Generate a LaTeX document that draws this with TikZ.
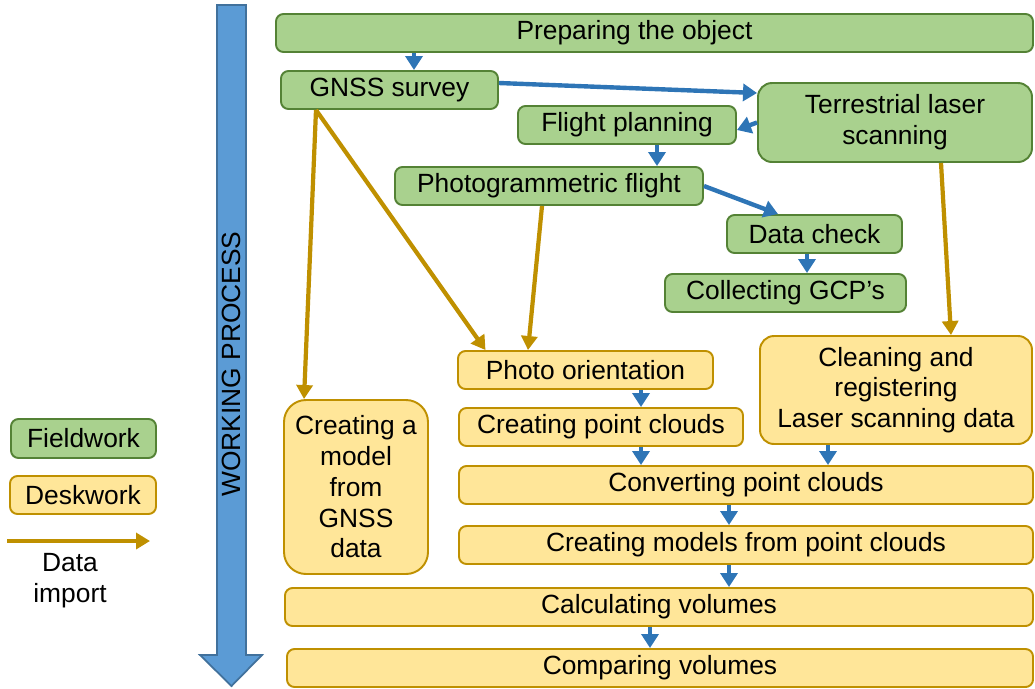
\documentclass[tikz,border=0pt]{standalone}
\usepackage{fontspec}
\setmainfont{Liberation Sans}
\usetikzlibrary{positioning,calc,arrows.meta}
\definecolor{colorFIELD}{HTML}{A9D18E}
\definecolor{colorFIELDD}{HTML}{548235}
\definecolor{colorDESK}{HTML}{FFE699}
\definecolor{colorDESKD}{HTML}{BF9000}
\definecolor{colorFLOW}{HTML}{2E75B6}
\definecolor{colorIMP}{HTML}{BF9000}
\definecolor{colorWP}{HTML}{5B9BD5}
\definecolor{colorWPD}{HTML}{41719C}
\tikzset{
   field/.style={draw=colorFIELDD,fill=colorFIELD,line width=1.1pt,rounded corners=1.5mm,inner sep=0pt,align=center},
   desk/.style={draw=colorDESKD,fill=colorDESK,line width=1.1pt,rounded corners=1.5mm,inner sep=0pt,align=center},
   flow/.style={-{Triangle[length=2.8mm,width=3.4mm]},color=colorFLOW,line width=2.5pt},
   dimp/.style={-{Triangle[length=2.8mm,width=3.2mm]},color=colorIMP,line width=2.4pt},
   wp/.style={draw=colorWPD,fill=colorWP,line width=1pt},
}

\begin{document}
\begin{tikzpicture}[font=\fontsize{15}{17.5}\selectfont]
      \useasboundingbox (0,0) rectangle (20.7,-13.76);
      % working process arrow
      \draw[wp] (4.34,-0.10) -- (4.92,-0.10) -- (4.92,-13.10) -- (5.24,-13.10)
            -- (4.63,-13.72) -- (4.00,-13.10) -- (4.34,-13.10) -- cycle;
      \node[rotate=90] (wplab) at (4.63,-7.28) {WORKING PROCESS};
      % legend
      \node[field, minimum width=2.90cm, minimum height=7.8mm] (legf) at (1.67,-8.77) {Fieldwork};
      \node[desk, minimum width=2.92cm, minimum height=7.6mm] (legd) at (1.66,-9.90) {Deskwork};
      \coordinate (imps) at (0.14,-10.82);
      \coordinate (impe) at (3.00,-10.82);
      \node[align=center] (implab) at (1.40,-11.61) {Data\\import};
      \draw[dimp] (imps) -- (impe);
      % fieldwork
      \node[field, minimum width=15.14cm, minimum height=7.6mm] (prep) at (13.09,-0.66) {Preparing the object\hspace*{8mm}};
      \node[field, minimum width=4.34cm, minimum height=7.6mm] (gnss) at (7.79,-1.80) {GNSS survey};
      \node[field, minimum width=4.36cm, minimum height=7.6mm] (plan) at (12.54,-2.50) {Flight planning};
      \node[field, minimum width=6.16cm, minimum height=7.6mm] (pflight) at (10.98,-3.72) {Photogrammetric flight};
      \node[field, rounded corners=2.8mm, minimum width=5.48cm, minimum height=1.58cm] (tls) at (17.90,-2.45) {Terrestrial laser\\scanning};
      \node[field, minimum width=3.50cm, minimum height=7.6mm] (check) at (16.29,-4.68) {Data check};
      \node[field, minimum width=4.82cm, minimum height=7.6mm] (gcp) at (15.71,-5.86) {Collecting GCP’s};
      % deskwork
      \node[desk, minimum width=5.10cm, minimum height=7.6mm] (orient) at (11.71,-7.40) {Photo orientation};
      \node[desk, minimum width=5.68cm, minimum height=7.6mm] (clouds) at (12.02,-8.54) {Creating point clouds};
      \node[desk, rounded corners=2.8mm, minimum width=5.44cm, minimum height=2.16cm] (clean) at (17.92,-7.80) {Cleaning and\\registering\\Laser scanning data};
      \node[desk, rounded corners=4.4mm, minimum width=2.88cm, minimum height=3.48cm] (gnssmodel) at (7.12,-9.74) {Creating a\\model\\from\\GNSS\\data};
      \node[desk, minimum width=11.48cm, minimum height=7.6mm] (convert) at (14.92,-9.70) {Converting point clouds};
      \node[desk, minimum width=11.48cm, minimum height=7.6mm] (models) at (14.92,-10.90) {Creating models from point clouds};
      \node[desk, minimum width=14.96cm, minimum height=7.6mm] (calc) at (13.18,-12.14) {Calculating volumes};
      \node[desk, minimum width=14.92cm, minimum height=7.6mm] (compare) at (13.20,-13.36) {Comparing volumes};
      % working flow
      \draw[flow] ([xshift=4.9mm]gnss.north |- prep.south) -- ([xshift=4.9mm]gnss.north);
      \draw[flow] ([yshift=1.4mm]gnss.east) -- ([yshift=5.9mm]tls.west);
      \draw[flow] (tls.west) -- ([yshift=-1mm]plan.east);
      \draw[flow] ([xshift=6mm]plan.south) -- ([xshift=6mm]plan.south |- pflight.north);
      \draw[flow] (pflight.east) -- ([xshift=-7.3mm]check.north);
      \draw[flow] ([xshift=-1.5mm]check.south) -- ([xshift=-1.5mm]check.south |- gcp.north);
      \draw[flow] ([xshift=11.1mm]orient.south) -- ([xshift=11.1mm]orient.south |- clouds.north);
      \draw[flow] ([xshift=8mm]clouds.south) -- ([xshift=8mm]clouds.south |- convert.north);
      \draw[flow] ([xshift=-13.6mm]clean.south) -- ([xshift=-13.6mm]clean.south |- convert.north);
      \draw[flow] ([xshift=-3.4mm]convert.south) -- ([xshift=-3.4mm]models.north);
      \draw[flow] ([xshift=-3.4mm]models.south) -- ([xshift=-3.4mm]models.south |- calc.north);
      \draw[flow] ([xshift=-1.8mm]calc.south) -- ([xshift=-1.8mm]calc.south |- compare.north);
      % data import
      \draw[dimp] ([xshift=-14.7mm]gnss.south) -- ([xshift=-10.4mm]gnssmodel.north);
      \draw[dimp] ([xshift=-14.7mm]gnss.south) -- ([xshift=-20mm]orient.north);
      \draw[dimp] ([xshift=-1.4mm]pflight.south) -- ([xshift=-11.5mm]orient.north);
      \draw[dimp] ([xshift=9.2mm]tls.south) -- ([xshift=11mm]clean.north);
\end{tikzpicture}
\end{document}
